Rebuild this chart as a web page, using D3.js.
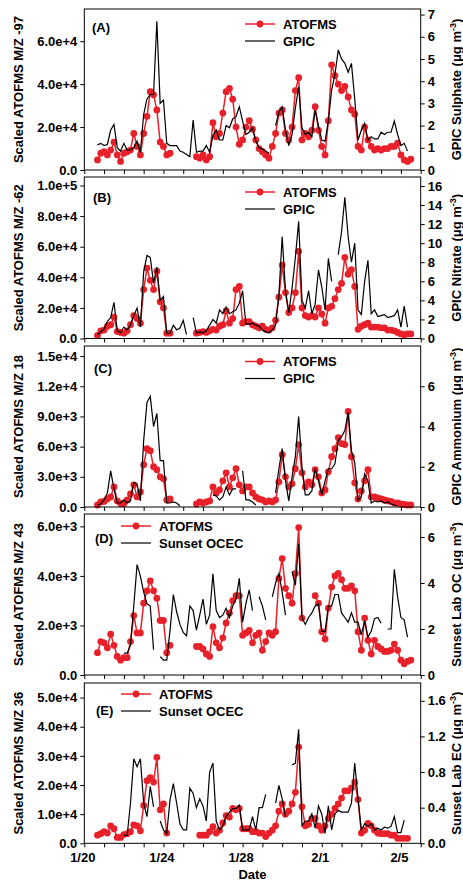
<!DOCTYPE html>
<html>
<head>
<meta charset="utf-8">
<script src="https://cdn.jsdelivr.net/npm/d3@7"></script>
<style>
  body { margin: 0; background: #fff; }
  svg text { font-family: Arial, "Liberation Sans", sans-serif; font-weight: bold; fill: #000; }
</style>
</head>
<body>
<svg id="chart" width="463" height="883"></svg>
<script>
// ---- time axis: days after 1/20 00:00 ----
const dayCount = 17;
const dateTicks = [0, 4, 8, 12, 16];
const dateTickLabels = ["1/20", "1/24", "1/28", "2/1", "2/5"];
// 4-hourly samples starting 1/20 16:00
const sampleTimes = d3.range(96).map(i => 2 / 3 + i / 6);

// ---- panel text ----
const panelLabels = ["(A)", "(B)", "(C)", "(D)", "(E)"];
const leftTitles = ["Scaled ATOFMS M/Z -97", "Scaled ATOFMS M/Z -62", "Scaled ATOFMS M/Z 18",
                    "Scaled ATOFMS M/Z 43", "Scaled ATOFMS M/Z 36"];
const rightTitles = ["GPIC Sulphate", "GPIC Nitrate", "GPIC Ammonium", "Sunset Lab OC", "Sunset Lab EC"];
const referenceNames = ["GPIC", "GPIC", "GPIC", "Sunset OCEC", "Sunset OCEC"];

// ---- axis extents and ticks ----
const leftMax = [7.5e4, 1.0556e5, 1.6e4, 6.5e3, 5.5e4];
const leftTicks = [
  [0, 2e4, 4e4, 6e4],
  [0, 2e4, 4e4, 6e4, 8e4, 1e5],
  [0, 3e3, 6e3, 9e3, 1.2e4, 1.5e4],
  [0, 2e3, 4e3, 6e3],
  [0, 1e4, 2e4, 3e4, 4e4, 5e4]
];
const rightMax = [7.25, 16.94, 8, 7, 1.8];
const rightTicks = [
  [0, 1, 2, 3, 4, 5, 6, 7],
  [0, 2, 4, 6, 8, 10, 12, 14, 16],
  [0, 2, 4, 6],
  [0, 2, 4, 6],
  [0, 0.4, 0.8, 1.2, 1.6]
];

// ---- ATOFMS scaled ion signals (value x unit) ----
const atofmsUnit = [1e4, 1e4, 1e3, 1e3, 1e4];
const atofmsA = [
  0.47, 0.78, 0.85, 0.7, 0.93, 1.3, 0.7, 0.4, 0.78, 0.85,
  0.93, 1.7, 1.1, 0.7, 1.7, 2.5, 3.65, 3.5, 2.8, 1.3,
  1.1, 0.7, 0.78, null, null, null, null, null, null, null,
  0.62, 0.55, 0.7, 0.47, 0.62, 2.2, 1.55, 1.7, 2.65, 3.65,
  3.8, 3.3, 2.0, 1.2, 1.4, 2.0, 2.3, 1.9, 1.4, 1.0,
  0.85, 0.7, 0.55, 1.1, 1.7, 2.65, 2.8, 1.7, 1.4, 2.0,
  3.7, 4.3, 1.4, 1.7, 1.55, 1.85, 2.95, 1.85, 1.1, 0.7,
  2.3, 4.9, 4.4, 4.0, 3.7, 3.9, 3.4, 2.8, 2.6, 1.1,
  0.93, 2.0, 1.4, 1.1, 0.93, 1.0, 0.93, 1.0, 1.0, 1.1,
  1.1, 1.25, 0.7, 0.47, 0.4, 0.5
];
const atofmsB = [
  0.2, 0.5, 0.55, 0.8, 0.9, 1.4, 0.45, 0.4, 0.35, 0.5,
  0.9, 1.5, 1.3, 1.0, 3.2, 4.6, 3.8, 3.2, 4.4, 2.4,
  2.0, 0.35, 0.35, null, null, null, null, null, null, null,
  0.35, 0.4, 0.45, 0.4, 0.5, 0.6, 0.55, 0.8, 0.9, 1.8,
  1.0, 1.3, 3.2, 3.4, 1.0, 1.1, 1.1, 0.9, 0.8, 0.7,
  0.8, 0.6, 0.55, 0.7, 1.2, 2.7, 4.8, 3.0, 1.7, 2.0,
  3.0, 5.7, 2.0, 1.5, 1.4, 1.5, 1.4, 2.0, 1.6, 1.0,
  2.0, 2.1, 2.6, 3.2, 3.6, 5.3, 4.2, 4.5, 3.4, 0.6,
  0.8, 0.9, 1.0, 0.75, 0.75, 0.75, 0.7, 0.7, 0.55, 0.55,
  0.5, 0.4, 0.3, 0.25, 0.3, 0.3
];
const atofmsC = [
  0.2, 0.5, 0.55, 0.8, 1.0, 2.0, 0.6, 0.35, 0.35, 0.7,
  1.3, 2.2, 1.0, 1.5, 4.2, 5.8, 5.6, 4.0, 3.7, 3.0,
  2.8, 0.7, 0.8, null, null, null, null, null, null, null,
  0.3, 0.5, 0.4, 0.5, 0.6, 2.0, 1.4, 1.7, 2.6, 3.4,
  2.0, 2.9, 3.8, 2.2, 1.6, 2.0, 2.0, 1.4, 1.0, 0.8,
  0.7, 0.5, 0.6, 0.5, 0.7, 2.5, 5.2, 3.0, 2.0, 2.3,
  3.8, 6.2, 3.4, 2.0, 2.5, 2.2, 3.7, 3.0, 1.4, 1.7,
  3.5, 5.0, 5.8, 6.9, 6.3, 6.2, 9.5, 5.0, 2.4, 0.8,
  1.6, 2.6, 3.7, 1.0, 1.0, 0.9, 0.8, 0.7, 0.6, 0.55,
  0.4, 0.4, 0.3, 0.25, 0.2, 0.2
];
const atofmsD = [
  0.9, 1.35, 1.3, 1.1, 1.65, 1.2, 0.75, 0.6, 0.7, 0.7,
  1.35, 2.4, 1.7, 1.7, 2.9, 3.4, 3.8, 3.4, 3.1, 2.2,
  2.2, 0.9, 1.2, null, null, null, null, null, null, null,
  1.15, 1.15, 1.05, 0.85, 0.75, 1.95, 1.3, 1.1, 1.5, 2.1,
  2.5, 3.0, 3.2, 3.2, 1.6, 1.7, 1.8, 1.3, 1.6, 1.7,
  1.0, 1.35, 1.7, 1.6, 1.75, 3.9, 4.7, 3.5, 3.2, 2.9,
  4.1, 5.95, 2.3, null, null, null, 3.2, 2.9, 1.75, 1.45,
  2.7, 3.55, 4.0, 4.1, 3.85, 3.5, 3.5, 3.6, 3.4, 1.75,
  1.0, 2.3, 1.4, 0.85, 1.4, 1.15, 1.05, 0.95, 0.95, 1.0,
  1.25, 1.0, 0.6, 0.45, 0.55, 0.6
];
const atofmsE = [
  0.28, 0.33, 0.4, 0.35, 0.6, 0.5, 0.2, 0.2, 0.3, 0.33,
  0.4, 0.63, 0.6, 0.43, 1.3, 2.15, 2.25, 2.1, 2.95, 1.15,
  1.35, 0.35, null, null, null, null, null, null, null, null,
  null, 0.28, 0.28, 0.28, 0.4, 0.57, 0.35, 0.45, 0.7, 0.95,
  0.9, 1.2, 1.15, 1.2, 0.5, 0.5, 0.5, 0.4, 0.4, 0.35,
  0.35, 0.23, 0.35, 0.45, 0.6, 1.1, 1.35, 1.0, 1.1, 1.35,
  1.75, 3.3, 1.25, 0.6, 0.65, 0.85, 0.85, 0.6, 0.45, 0.6,
  0.85, 1.0, 1.2, 1.35, 1.55, 1.8, 1.8, 1.9, 2.1, 1.5,
  0.35, 0.45, 0.68, 0.6, 0.45, 0.35, 0.33, 0.33, 0.33, 0.28,
  0.28, 0.17, 0.17, 0.17, 0.17, null
];

// ---- reference instruments (ug m-3) ----
const gpicSulphate = [
  1.13, 1.2, 1.1, 1.15, 1.8, 2.05, 1.0, 0.85, 1.2, 0.9,
  0.9, 1.0, 1.3, 0.8, 2.5, 3.2, 3.4, 3.4, 6.7, 3.0,
  3.15, 1.2, 1.1, 1.1, 1.1, 0.85, 0.8, 0.7, 0.6, 2.25,
  0.8, 0.85, 0.85, 1.1, 0.8, 1.55, 1.8, 1.35, 1.35, 2.0,
  1.9, 2.3, 2.4, 2.85, 2.2, 1.6, 1.7, 1.9, 1.3, 1.0,
  0.95, 0.85, 0.75, null, 2.0, 2.6, 2.85, 1.8, 1.1, 1.6,
  2.8, 3.75, 1.9, 1.6, 1.7, 1.5, 2.7, 2.0, 1.35, 1.3,
  2.2, 3.6, 4.3, 5.4, 5.0, 4.8, 4.4, 4.8, 3.2, 1.35,
  1.8, 2.1, 1.35, 1.5, 1.4, 1.4, 1.7, 1.6, 1.7, 1.7,
  2.2, 1.6, 1.1, 1.2, 0.85, null
];
const gpicNitrate = [
  0.4, 0.7, 1.0, 1.8, 2.2, 3.8, 0.8, 0.6, 1.2, 0.9,
  1.4, 2.4, 3.2, 1.2, 7.0, 8.7, 8.5, 5.8, 7.5, 4.0,
  4.4, 0.55, 0.55, 1.4, 0.9, 1.1, 1.9, 0.4, null, 2.2,
  0.6, 0.7, 0.6, 0.8, 1.4, 2.0, 1.6, 3.0, 2.6, 3.3,
  2.6, 2.8, 3.0, 3.7, 5.0, 1.5, 1.5, 1.6, 1.4, 1.3,
  0.9, 0.7, 0.6, 0.9, 1.4, 4.5, 10.7, 5.0, 2.7, 5.3,
  8.5, 12.3, 4.0, 3.2, 5.0, 2.6, 3.6, 7.2, 5.4, 3.0,
  8.4, 6.0, null, 8.8, 11.2, 14.8, 10.7, 8.0, 10.0, 3.0,
  2.5, 6.0, 8.2, 2.6, 3.0, 2.3, 2.4, 2.5, 2.2, 2.3,
  2.4, 3.0, 1.2, 3.4, 1.2, null
];
const gpicAmmonium = [
  0.1, 0.15, 0.35, 0.7, 1.8, 0.9, 0.2, 0.2, 0.35, 0.2,
  0.3, 1.2, 1.15, 0.3, 3.3, 5.2, 5.5, 4.0, 4.65, 2.3,
  2.3, 0.2, 0.2, 0.25, 0.2, 0.05, null, null, null, null,
  null, null, null, null, null, 0.6, 0.55, 0.35, 0.5, 1.0,
  0.6, 0.9, 0.9, null, 1.8, 0.35, 0.35, 0.25, 0.1, null,
  null, null, null, null, 0.7, 1.9, 2.9, 1.3, 0.3, 1.5,
  2.5, 4.5, 2.0, 0.6, 0.6, 0.8, 1.9, 1.3, 0.6, 1.3,
  1.9, 1.9, 2.15, 3.3, 3.5, 3.8, 4.7, 2.8, 2.2, 0.35,
  0.5, 1.65, 1.3, 0.2, 0.3, 0.25, 0.3, 0.2, 0.25, 0.15,
  0.1, 0.05, null, null, null, null
];
const sunsetOC = [
  null, null, null, null, null, null, null, null, 0.95, 0.95,
  1.3, 3.0, 4.8, 4.3, 3.6, 3.1, 3.0, 1.1, null, 0.8,
  0.65, 0.65, 1.95, 3.5, 2.75, 2.2, 1.85, 1.7, 3.0, 2.8,
  1.95, 2.6, 3.3, 2.2, 2.6, 4.4, 2.8, 2.5, 2.6, 2.9,
  2.5, 3.0, 3.3, 4.2, 2.3, 3.1, 3.7, 2.8, null, 3.4,
  3.0, 2.4, null, 3.4, 4.0, 4.4, 3.6, 2.6, null, 4.5,
  3.9, 5.7, 2.5, 2.2, 2.5, 2.7, 3.0, 3.1, 1.9, 1.9,
  3.0, 3.0, 3.5, 3.5, 2.7, 2.5, 2.3, 2.7, 2.3, 2.3,
  1.75, 2.35, 1.65, 1.9, 2.45, 2.5, 2.25, null, 2.0, 2.0,
  4.6, 3.4, 2.5, 2.4, 1.65, null
];
const sunsetEC = [
  null, null, null, null, null, null, null, null, 0.09, 0.09,
  0.45, 0.95, 0.86, 0.95, 0.45, 0.3, 0.64, 0.41, null, 0.25,
  0.15, 0.11, 0.49, 0.67, 0.45, 0.22, 0.15, 0.15, 0.62, 0.56,
  0.4, 0.5, 0.42, 0.25, 0.8, 0.9, 0.25, 0.15, 0.19, 0.3,
  0.35, 0.39, 0.39, 0.43, 0.15, 0.15, 0.15, 0.3, 0.15, 0.4,
  0.4, 0.55, null, null, 0.45, 0.65, 0.5, 0.3, null, 0.88,
  0.9, 1.28, 0.2, 0.25, 0.25, 0.33, 0.17, 0.42, 0.33, 0.11,
  0.42, 0.15, 0.33, 0.37, 0.35, 0.35, 0.35, 0.45, 0.9, 0.5,
  0.15, 0.22, 0.19, 0.22, 0.15, 0.17, 0.15, 0.18, 0.17, 0.19,
  0.3, 0.12, 0.12, 0.26, null, null
];

const atofmsSeries = [atofmsA, atofmsB, atofmsC, atofmsD, atofmsE];
const referenceSeries = [gpicSulphate, gpicNitrate, gpicAmmonium, sunsetOC, sunsetEC];

// ---- layout ----
const plotLeft = 84.3, plotRight = 420.7;
const panelTops = [9, 177, 346, 514, 683];
const panelBottoms = [170, 338.5, 507, 675, 843.3];
const legendX = [245, 245, 245, 121, 121];
const legendDy = [15, 15, 15.5, 12, 11];
const labelX = [92, 93, 94, 95, 96];
const labelDy = [18, 20, 22, 24, 27];
const red = "#e8202a";
const markerR = 3.4;

const svg = d3.select("#chart");
const x = d3.scaleLinear().domain([0, dayCount]).range([plotLeft, plotRight]);
const fmtLeft = v => v === 0 ? "0.0" : v.toExponential(1);
const rightFormats = [d3.format("d"), d3.format("d"), d3.format("d"), d3.format("d"), d3.format(".1f")];

function styleAxis(sel) {
  sel.attr("font-size", 13)
     .attr("font-family", "Arial, 'Liberation Sans', sans-serif")
     .attr("font-weight", "bold");
  sel.select(".domain").remove();
  sel.selectAll(".tick line").attr("stroke", "#000");
}

atofmsSeries.forEach((series, k) => {
  const top = panelTops[k], bottom = panelBottoms[k];
  const yL = d3.scaleLinear().domain([0, leftMax[k]]).range([bottom, top]);
  const yR = d3.scaleLinear().domain([0, rightMax[k]]).range([bottom, top]);
  const g = svg.append("g");

  // ATOFMS trace with markers
  const pts = sampleTimes.map((t, i) => ({ t, v: series[i] }));
  const lineL = d3.line().defined(d => d.v != null)
    .x(d => x(d.t)).y(d => yL(d.v * atofmsUnit[k]));
  g.append("path").attr("d", lineL(pts))
    .attr("fill", "none").attr("stroke", red).attr("stroke-width", 1.5);
  g.selectAll("circle.pt").data(pts.filter(d => d.v != null)).join("circle")
    .attr("class", "pt")
    .attr("cx", d => x(d.t)).attr("cy", d => yL(d.v * atofmsUnit[k]))
    .attr("r", markerR).attr("fill", red);

  // reference instrument trace
  const ref = sampleTimes.map((t, i) => ({ t, v: referenceSeries[k][i] }));
  const lineR = d3.line().defined(d => d.v != null)
    .x(d => x(d.t)).y(d => yR(d.v));
  g.append("path").attr("d", lineR(ref))
    .attr("fill", "none").attr("stroke", "#000").attr("stroke-width", 1.2);

  // frame
  g.append("rect")
    .attr("x", plotLeft).attr("y", top)
    .attr("width", plotRight - plotLeft).attr("height", bottom - top)
    .attr("fill", "none").attr("stroke", "#000").attr("stroke-width", 1);

  // axes
  g.append("g").attr("transform", `translate(${plotLeft},0)`)
    .call(d3.axisLeft(yL).tickValues(leftTicks[k]).tickFormat(fmtLeft).tickSize(4).tickPadding(3))
    .call(styleAxis);
  g.append("g").attr("transform", `translate(${plotRight},0)`)
    .call(d3.axisRight(yR).tickValues(rightTicks[k]).tickFormat(rightFormats[k]).tickSize(4).tickPadding(3))
    .call(styleAxis);
  const bottomAxis = g.append("g").attr("transform", `translate(0,${bottom})`)
    .call(d3.axisBottom(x).tickValues(d3.range(0, dayCount + 1)).tickSize(4).tickPadding(5)
      .tickFormat(d => (k === 4 && dateTicks.includes(d)) ? dateTickLabels[dateTicks.indexOf(d)] : ""))
    .call(styleAxis);
  bottomAxis.selectAll(".tick text").attr("dx", -2);

  // panel letter
  g.append("text").attr("x", labelX[k]).attr("y", top + labelDy[k]).attr("dy", "0.35em")
    .attr("font-size", 13).text(panelLabels[k]);

  // legend
  const lx = legendX[k], ly = top + legendDy[k];
  g.append("line").attr("x1", lx).attr("x2", lx + 30).attr("y1", ly).attr("y2", ly)
    .attr("stroke", red).attr("stroke-width", 1.5);
  g.append("circle").attr("cx", lx + 15).attr("cy", ly).attr("r", markerR).attr("fill", red);
  g.append("text").attr("x", lx + 38).attr("y", ly).attr("dy", "0.35em")
    .attr("font-size", 13).text("ATOFMS");
  g.append("line").attr("x1", lx).attr("x2", lx + 30).attr("y1", ly + 17).attr("y2", ly + 17)
    .attr("stroke", "#000").attr("stroke-width", 1.2);
  g.append("text").attr("x", lx + 38).attr("y", ly + 17).attr("dy", "0.35em")
    .attr("font-size", 13).text(referenceNames[k]);

  // axis titles
  const mid = (top + bottom) / 2;
  g.append("text").attr("transform", `translate(18,${mid}) rotate(-90)`)
    .attr("text-anchor", "middle").attr("dy", "0.35em").attr("font-size", 13)
    .text(leftTitles[k]);
  const rt = g.append("text").attr("transform", `translate(456,${mid}) rotate(-90)`)
    .attr("text-anchor", "middle").attr("dy", "0.35em").attr("font-size", 13);
  rt.append("tspan").text(rightTitles[k] + " (\u03bcg m");
  rt.append("tspan").attr("dy", -5).attr("font-size", 9).text("-3");
  rt.append("tspan").attr("dy", 5).text(")");
});

svg.append("text").attr("x", (plotLeft + plotRight) / 2).attr("y", 879)
  .attr("text-anchor", "middle").attr("font-size", 13).text("Date");
</script>
</body>
</html>
